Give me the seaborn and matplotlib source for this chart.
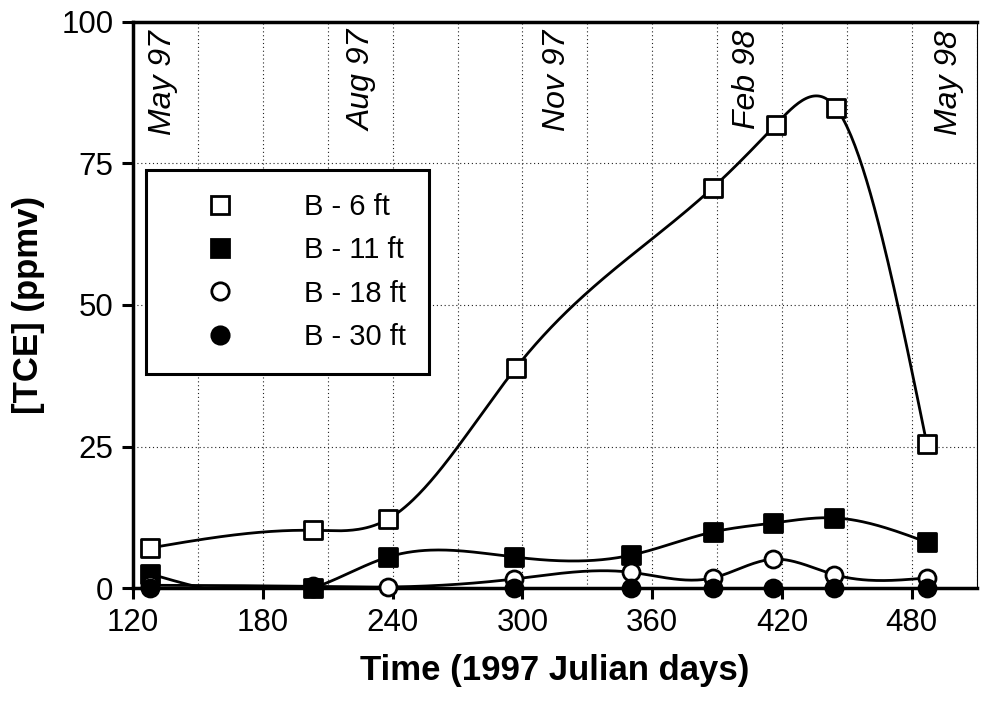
import numpy as np
import matplotlib
matplotlib.use('Agg')
import matplotlib.pyplot as plt
import seaborn as sns
from matplotlib.lines import Line2D
from matplotlib.ticker import MultipleLocator

# data
days_6 = [128, 203, 238, 297, 388, 417, 445, 487]
tce_6 = [7.1, 10.2, 12.2, 38.9, 70.7, 81.8, 84.8, 25.4]
days_11 = [128, 203, 238, 296, 350, 388, 416, 444, 487]
tce_11 = [2.5, 0.0, 5.5, 5.5, 5.8, 9.9, 11.5, 12.4, 8.1]
days_18 = [128, 203, 238, 296, 350, 388, 416, 444, 487]
tce_18 = [0.5, 0.3, 0.2, 1.6, 2.8, 1.8, 5.1, 2.4, 1.8]
days_30 = [128, 203, 296, 350, 388, 416, 444, 487]
tce_30 = [0.0, 0.0, 0.0, 0.0, 0.0, 0.0, 0.0, 0.0]
labels = ['B - 6 ft', 'B - 11 ft', 'B - 18 ft', 'B - 30 ft']
months = ['May 97', 'Aug 97', 'Nov 97', 'Feb 98', 'May 98']
month_days = [134, 226, 316, 404, 497]


def smooth(x, y, num=400):
    # natural cubic spline through the measured points (line rendering only)
    x = np.asarray(x, float)
    y = np.asarray(y, float)
    n = len(x)
    h = np.diff(x)
    A = np.zeros((n, n))
    r = np.zeros(n)
    A[0, 0] = A[-1, -1] = 1
    for i in range(1, n - 1):
        A[i, i - 1] = h[i - 1]
        A[i, i] = 2 * (h[i - 1] + h[i])
        A[i, i + 1] = h[i]
        r[i] = 6 * ((y[i + 1] - y[i]) / h[i] - (y[i] - y[i - 1]) / h[i - 1])
    m = np.linalg.solve(A, r)
    xs = np.linspace(x[0], x[-1], num)
    k = np.clip(np.searchsorted(x, xs) - 1, 0, n - 2)
    t0 = x[k + 1] - xs
    t1 = xs - x[k]
    hk = h[k]
    ys = (m[k] * t0**3 + m[k + 1] * t1**3) / (6 * hk) \
        + (y[k] / hk - m[k] * hk / 6) * t0 + (y[k + 1] / hk - m[k + 1] * hk / 6) * t1
    return xs, ys


sns.set_style('ticks')
plt.rcParams['font.family'] = ['Liberation Sans', 'DejaVu Sans']
plt.rcParams['text.color'] = 'black'
plt.rcParams['axes.labelcolor'] = 'black'
plt.rcParams['xtick.color'] = 'black'
plt.rcParams['ytick.color'] = 'black'

fig = plt.figure(figsize=(9.81, 7.06), dpi=100)
ax = fig.add_axes([0.1356, 0.167, 0.860, 0.802])

series = [
    (days_6, tce_6, 's', 'white'),
    (days_11, tce_11, 's', 'black'),
    (days_18, tce_18, 'o', 'white'),
    (days_30, tce_30, 'o', 'black'),
]

for i, (d, v, mk, fc) in enumerate(series):
    xs, ys = smooth(d, v)
    sns.lineplot(x=xs, y=ys, color='black', linewidth=2.0, ax=ax,
                 sort=False, estimator=None, zorder=2)
    if i == 3:
        ax.lines[-1].set_clip_on(False)
    sns.scatterplot(x=d, y=v, marker=mk, s=170 if mk == 's' else 150,
                    facecolor=fc, edgecolor='black', linewidth=2.0,
                    ax=ax, zorder=3, clip_on=False)

ax.set_xlim(120, 510)
ax.set_ylim(0, 100)
ax.set_xticks(range(120, 481, 60))
ax.xaxis.set_minor_locator(MultipleLocator(30))
ax.set_yticks([0, 25, 50, 75, 100])
ax.grid(True, which='both', axis='x', color='#222222', linestyle=(0, (1, 2.5)), linewidth=0.8)
ax.grid(True, which='major', axis='y', color='#222222', linestyle=(0, (1, 2.5)), linewidth=0.8)
ax.tick_params(axis='both', which='major', direction='out', length=8, width=2.2,
               labelsize=22.5, pad=6, color='black', labelcolor='black')
ax.tick_params(axis='both', which='minor', length=0)

for side in ['left', 'bottom', 'top']:
    ax.spines[side].set_visible(True)
    ax.spines[side].set_linewidth(2.5)
    ax.spines[side].set_color('black')
ax.spines['right'].set_linewidth(0.8)
ax.spines['right'].set_color('black')

for name, d in zip(months, month_days):
    ax.text(d, 98.6, name, rotation=90, ha='center', va='top', color='black',
            fontsize=23, fontstyle='italic', zorder=4)

ax.set_xlabel('Time (1997 Julian days)', fontsize=25, fontweight='bold', labelpad=12)
ax.set_ylabel('[TCE] (ppmv)', fontsize=25, fontweight='bold', labelpad=12)

handles = [Line2D([], [], linestyle='none', marker=mk, markersize=12.5,
                  markerfacecolor=fc, markeredgecolor='black', markeredgewidth=2.0)
           for _, _, mk, fc in series]
leg = ax.legend(handles, labels, loc='upper left', bbox_to_anchor=(0.0154, 0.7385),
                borderaxespad=0, fontsize=21, frameon=True, fancybox=False,
                handlelength=3.5, handletextpad=1.1, labelspacing=0.52, borderpad=0.8)
leg.get_frame().set_edgecolor('black')
leg.get_frame().set_linewidth(2.2)
leg.get_frame().set_alpha(1)
leg.set_zorder(5)
for t in leg.get_texts():
    t.set_color('black')

fig.savefig('out.png', dpi=100)
